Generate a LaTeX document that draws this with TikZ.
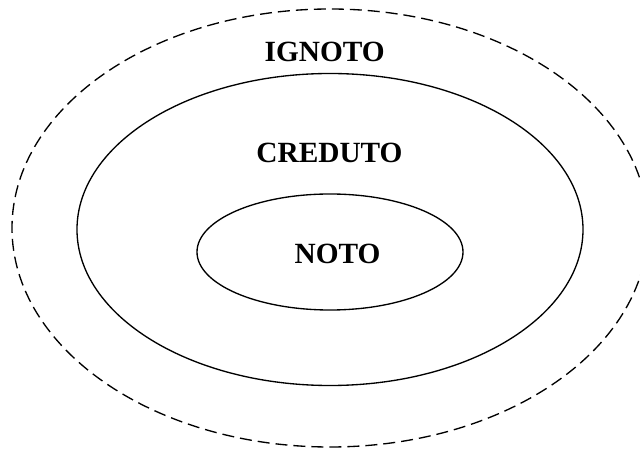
\documentclass[tikz,border=0pt]{standalone}
\usepackage{fontspec}
\setmainfont{Liberation Serif}
\begin{document}
\begin{tikzpicture}[x=0.75pt,y=0.75pt,yscale=-1,xscale=1]
\tikzset{region/.style={line width=1pt},
  label text/.style={font=\fontsize{22}{26}\selectfont\bfseries}}
\useasboundingbox (0,0) rectangle (640,452);

%Ellipse [id:outer]
\draw [region, dash pattern={on 9pt off 4.5pt}] (330,228) ellipse [x radius=318, y radius=219];
%Ellipse [id:middle]
\draw [region] (330,229.5) ellipse [x radius=253, y radius=156];
%Ellipse [id:inner]
\draw [region] (330,252) ellipse [x radius=133, y radius=58];

% Text Node
\draw (324.7,52) node [label text] (ignoto) {IGNOTO};
% Text Node
\draw (329.5,153) node [label text] (creduto) {CREDUTO};
% Text Node
\draw (337.5,254) node [label text] (noto) {NOTO};

\end{tikzpicture}
\end{document}
